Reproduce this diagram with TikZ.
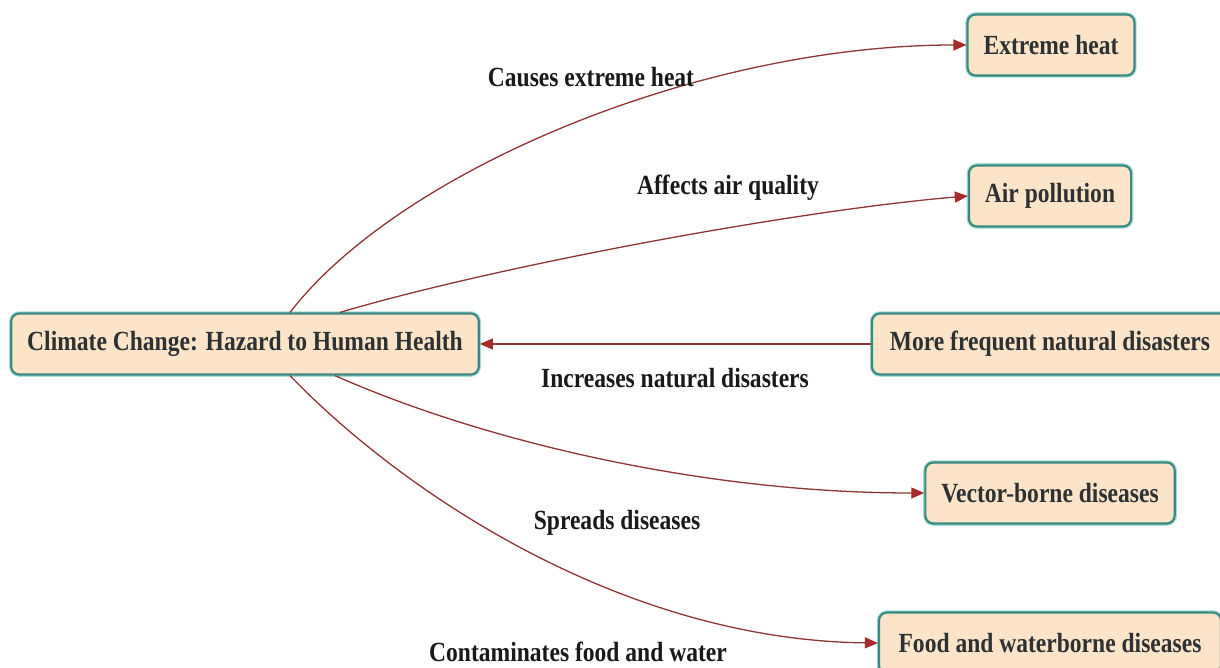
\documentclass[tikz,border=0pt]{standalone}
\usepackage{fontspec}
\usepackage{graphicx}
\setmainfont{Liberation Serif}
\newcommand{\sqz}[1]{\scalebox{0.85}[1]{#1}}
\usetikzlibrary{arrows.meta}
\definecolor{boxfill}{HTML}{FCE4C8}
\definecolor{boxline}{HTML}{3B8A82}
\definecolor{boxhalo}{HTML}{A8DCD6}
\definecolor{edgecol}{HTML}{8E3636}
\definecolor{tipcol}{HTML}{A82A2A}
\definecolor{txtcol}{HTML}{2E3131}
\tikzset{
  box/.style={draw=boxline, line width=2.2pt, fill=boxfill, rounded corners=8pt,
    minimum height=61pt, inner xsep=16pt, text=txtcol,
    font=\fontsize{27.7}{33}\selectfont\bfseries,
    preaction={draw=boxhalo, line width=4.5pt}},
  lbl/.style={text=black!90, font=\fontsize{27.7}{33}\selectfont\bfseries, inner sep=1pt},
  link/.style={draw=edgecol, line width=1.3pt,
    -{Triangle[length=13pt,width=11pt,fill=tipcol,color=tipcol]}}
}
\begin{document}
\begin{tikzpicture}[x=1pt,y=-1pt]
\path[use as bounding box, fill=white] (0,0) rectangle (1220,668);

\node[box] (main) at (245,344) {\sqz{Climate Change: Hazard to Human Health}};
\node[box] (heat) at (1051,45) {\sqz{Extreme heat}};
\node[box] (air) at (1050,196) {\sqz{Air pollution}};
\node[box, minimum width=356pt] (dis) at (1050,344) {\sqz{More frequent natural disasters}};
\node[box] (vec) at (1050,493) {\sqz{Vector-borne diseases}};
\node[box, minimum width=342pt] (food) at (1050,643) {\sqz{Food and waterborne diseases}};

\draw[link] ([xshift=45pt]main.north) .. controls (400,170) and (700,45) .. (heat.west);
\draw[link] ([xshift=95pt]main.north) .. controls (500,265) and (800,210) .. (air.west);
\draw[link] (dis.west) -- (main.east);
\draw[link] ([xshift=90pt]main.south) .. controls (480,440) and (700,493) .. (vec.west);
\draw[link] ([xshift=45pt]main.south) .. controls (400,490) and (620,640) .. (food.west);

\node[lbl] (l1) at (591,77) {\sqz{Causes extreme heat}};
\node[lbl] (l2) at (728,188) {\sqz{Affects air quality}};
\node[lbl] (l3) at (675,378) {\sqz{Increases natural disasters}};
\node[lbl] (l4) at (617,523) {\sqz{Spreads diseases}};
\node[lbl] (l5) at (578,652) {\sqz{Contaminates food and water}};
\end{tikzpicture}
\end{document}
